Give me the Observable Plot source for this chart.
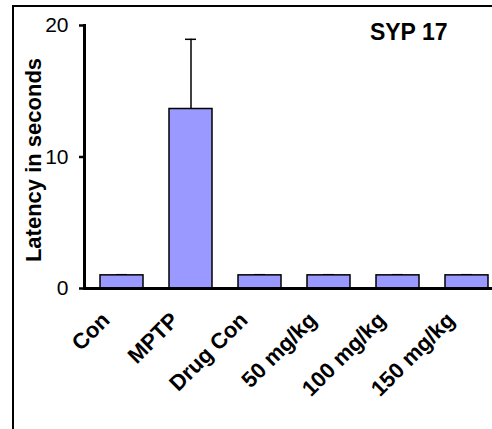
<!DOCTYPE html>
<html>
<head>
<meta charset="utf-8">
<script src="https://cdn.jsdelivr.net/npm/d3@7"></script>
<script src="https://cdn.jsdelivr.net/npm/@observablehq/plot@0.6"></script>
<style>
  html, body { margin: 0; padding: 0; background: #fff; }
  #wrap { position: relative; width: 492px; height: 429px; overflow: hidden; background: #fff; }
  #frame { position: absolute; left: 12px; top: 5px; width: 600px; height: 600px;
           border-left: 2px solid #000; border-top: 2px solid #000; }
  #chart { position: absolute; left: 0; top: 0; width: 520px; height: 429px; }
  #chart svg { max-width: none !important; }
</style>
</head>
<body>
<div id="wrap">
  <div id="frame"></div>
  <div id="chart"></div>
</div>
<script>
const categories = ["Con", "MPTP", "Drug Con", "50 mg/kg", "100 mg/kg", "150 mg/kg"];
const means = [1.0, 13.65, 1.0, 1.0, 1.0, 1.0];
const errors = [0.05, 5.3, 0.05, 0.05, 0.05, 0.05];
const yTicks = [0, 10, 20];
const titleText = "SYP 17";
const yLabel = "Latency in seconds";

const data = categories.map((c, i) => ({group: c, mean: means[i], err: errors[i]}));
const font = "'Liberation Sans', Arial, Helvetica, sans-serif";

const chart = Plot.plot({
  width: 520,
  height: 429,
  marginLeft: 84,
  marginRight: 16,
  marginTop: 25,
  marginBottom: 141,
  style: {fontFamily: font, background: "transparent", overflow: "visible", color: "#000", maxWidth: "none"},
  x: {domain: categories, paddingInner: 0.371, paddingOuter: 0.186, axis: null},
  y: {domain: [0, 20], axis: null},
  marks: [
    Plot.ruleX(data, {x: "group", y1: "mean", y2: d => d.mean + d.err, stroke: "#000", strokeWidth: 1.5}),
    Plot.tickY(data, {x: "group", y: d => d.mean + d.err, insetLeft: 16, insetRight: 16, stroke: "#000", strokeWidth: 1.5}),
    Plot.barY(data, {x: "group", y: "mean", fill: "#9999FF", stroke: "#000", strokeWidth: 1.5}),
    Plot.axisY({ticks: yTicks, tickFormat: d => d, tickSize: 5, tickPadding: 11, fontSize: 21, strokeWidth: 2.5, label: null}),
    Plot.frame({anchor: "left", strokeWidth: 3}),
    Plot.frame({anchor: "bottom", strokeWidth: 3}),
    Plot.text(categories, {x: d => d, y: () => 0, rotate: -45, textAnchor: "end", lineAnchor: "bottom",
      dx: -11, dy: 33, fontSize: 22, fontWeight: "bold", fill: "#000"}),
    Plot.text([yLabel], {frameAnchor: "left", rotate: -90, textAnchor: "middle", lineAnchor: "top", dx: -59, dy: 3,
      fontSize: 22, fontWeight: "bold", fill: "#000"}),
    Plot.text([titleText], {frameAnchor: "top-right", textAnchor: "end", lineAnchor: "top", dx: -57, dy: -2,
      fontSize: 23, fontWeight: "bold", fill: "#000"})
  ]
});
document.getElementById("chart").appendChild(chart);
</script>
</body>
</html>
